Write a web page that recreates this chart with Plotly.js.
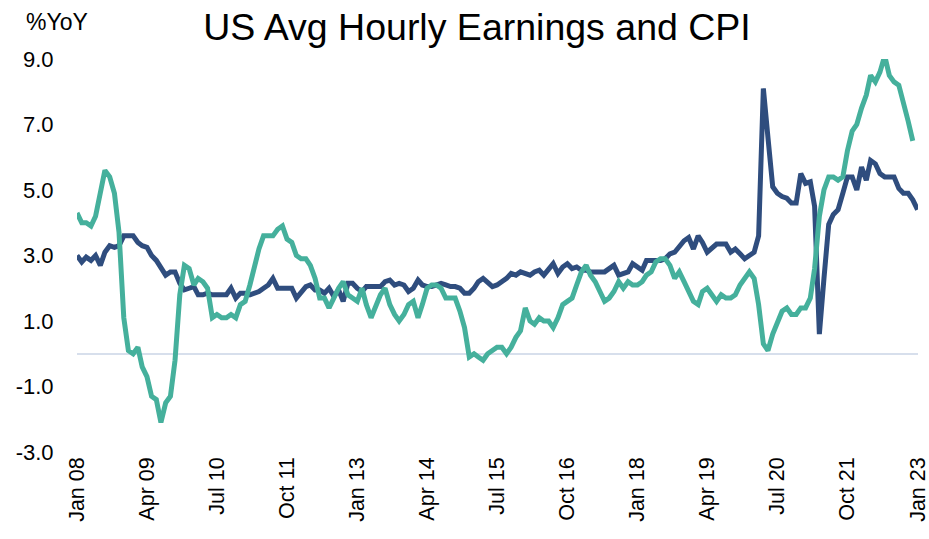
<!DOCTYPE html>
<html>
<head>
<meta charset="utf-8">
<script src="https://cdn.plot.ly/plotly-3.0.1.min.js"></script>
<style>html,body{margin:0;padding:0;background:#fff;}#chart{width:929px;height:539px;}</style>
</head>
<body>
<div id="chart"></div>
<script>
// Monthly series, first month Jan 2008
const startYear = 2008;

// Average hourly earnings, %YoY (Jan 2008 - Jan 2023)
const earnings = [
  3.0, 2.8, 2.95, 2.85, 3.0, 2.7, 3.1, 3.3, 3.25, 3.3, 3.6, 3.6,
  3.6, 3.4, 3.3, 3.25, 3.0, 2.85, 2.65, 2.4, 2.5, 2.5, 2.15, 1.95,
  2.0, 2.05, 1.8, 1.8, 1.85, 1.8, 1.8, 1.8, 1.8, 2.0, 1.7, 1.85,
  1.85, 1.8, 1.85, 1.9, 2.0, 2.1, 2.3, 2.0, 2.0, 2.0, 2.0, 1.7,
  1.9, 2.05, 2.1, 1.95, 1.95, 1.85, 2.0, 1.75, 1.95, 1.6, 2.15, 2.15,
  2.0, 1.9, 2.05, 2.05, 2.05, 2.05, 2.2, 2.25, 2.1, 2.15, 2.1, 1.9,
  2.0, 2.25, 2.1, 2.05, 2.05, 2.1, 2.15, 2.1, 2.05, 2.05, 2.0, 1.85,
  1.85, 2.0, 2.2, 2.3, 2.2, 2.05, 2.1, 2.2, 2.3, 2.45, 2.4, 2.5,
  2.45, 2.4, 2.5, 2.55, 2.4, 2.6, 2.75, 2.45, 2.65, 2.75, 2.6, 2.65,
  2.55, 2.55, 2.5, 2.5, 2.5, 2.5, 2.6, 2.7, 2.4, 2.45, 2.5, 2.75,
  2.65, 2.55, 2.85, 2.85, 2.85, 2.85, 2.9, 3.05, 3.1, 3.3, 3.45, 3.55,
  3.2, 3.6, 3.4, 3.1, 3.25, 3.35, 3.35, 3.35, 3.1, 3.2, 3.05, 2.9,
  3.0, 3.1, 3.6, 8.1, 6.6, 5.1, 4.9, 4.8, 4.75, 4.6, 4.6, 5.5,
  5.2, 5.25, 4.5, 0.6, 2.3, 3.95, 4.25, 4.4, 4.9, 5.4, 5.4, 5.0,
  5.7, 5.3, 5.9, 5.8, 5.5, 5.4, 5.4, 5.4, 5.05, 4.9, 4.9, 4.7,
  4.4
];

// CPI, %YoY (Jan 2008 - Dec 2022)
const cpi = [
  4.3, 4.0, 4.0, 3.9, 4.2, 5.0, 5.6, 5.4, 4.9, 3.7, 1.1, 0.1,
  0.0, 0.2, -0.4, -0.7, -1.3, -1.4, -2.1, -1.5, -1.3, -0.2, 1.8, 2.7,
  2.6, 2.1, 2.3, 2.2, 2.0, 1.1, 1.2, 1.1, 1.1, 1.2, 1.1, 1.5,
  1.6, 2.1, 2.7, 3.2, 3.6, 3.6, 3.6, 3.8, 3.9, 3.5, 3.4, 3.0,
  2.9, 2.9, 2.7, 2.3, 1.7, 1.7, 1.4, 1.7, 2.0, 2.2, 1.8, 1.7,
  1.6, 2.0, 1.5, 1.1, 1.4, 1.8, 2.0, 1.5, 1.2, 1.0, 1.2, 1.5,
  1.6, 1.1, 1.5, 2.0, 2.1, 2.1, 2.0, 1.7, 1.7, 1.7, 1.3, 0.8,
  -0.1, 0.0, -0.1, -0.2, 0.0, 0.1, 0.2, 0.2, 0.0, 0.2, 0.5, 0.7,
  1.4, 1.0, 0.9, 1.1, 1.0, 1.0, 0.8, 1.1, 1.5, 1.6, 1.7, 2.1,
  2.5, 2.7, 2.4, 2.2, 1.9, 1.6, 1.7, 1.9, 2.2, 2.0, 2.2, 2.1,
  2.1, 2.2, 2.4, 2.5, 2.8, 2.9, 2.9, 2.7, 2.3, 2.5, 2.2, 1.9,
  1.6, 1.5, 1.9, 2.0, 1.8, 1.6, 1.8, 1.7, 1.7, 1.8, 2.1, 2.3,
  2.5, 2.3, 1.5, 0.3, 0.1, 0.6, 1.0, 1.3, 1.4, 1.2, 1.2, 1.4,
  1.4, 1.7, 2.6, 4.2, 5.0, 5.4, 5.4, 5.3, 5.4, 6.2, 6.8, 7.0,
  7.5, 7.9, 8.5, 8.3, 8.6, 9.1, 8.5, 8.3, 8.2, 7.7, 7.1, 6.5
];

const tickDates = ['2008-01-01','2009-04-01','2010-07-01','2011-10-01','2013-01-01','2014-04-01',
  '2015-07-01','2016-10-01','2018-01-01','2019-04-01','2020-07-01','2021-10-01','2023-01-01'];
const tickLabels = ['Jan 08','Apr 09','Jul 10','Oct 11','Jan 13','Apr 14',
  'Jul 15','Oct 16','Jan 18','Apr 19','Jul 20','Oct 21','Jan 23'];
const yTicks = [-3, -1, 1, 3, 5, 7, 9];
const yTickLabels = ['-3.0', '-1.0', '1.0', '3.0', '5.0', '7.0', '9.0'];

function months(n) {
  const out = [];
  for (let k = 0; k < n; k++) {
    const y = startYear + Math.floor(k / 12);
    const m = (k % 12) + 1;
    out.push(y + '-' + (m < 10 ? '0' + m : m) + '-01');
  }
  return out;
}

const FONT = 'Liberation Sans, Arial, sans-serif';

const traces = [
  { x: months(earnings.length), y: earnings, type: 'scatter', mode: 'lines',
    name: 'Avg Hourly Earnings', line: { color: '#2F4D7E', width: 5 } },
  { x: months(cpi.length), y: cpi, type: 'scatter', mode: 'lines',
    name: 'CPI', line: { color: '#45B09C', width: 5 } }
];

const layout = {
  width: 929, height: 539,
  paper_bgcolor: '#ffffff', plot_bgcolor: '#ffffff',
  margin: { l: 77, r: 11, t: 59, b: 87 },
  showlegend: false,
  font: { family: FONT, color: '#000000', size: 22 },
  title: { text: 'US Avg Hourly Earnings and CPI', font: { family: FONT, size: 37.5, color: '#000000' },
           x: 0.5135, xanchor: 'center', xref: 'container', y: 0.95, yanchor: 'middle', yref: 'container' },
  xaxis: {
    type: 'date', range: ['2008-01-01', '2023-01-04'],
    tickvals: tickDates, ticktext: tickLabels, tickangle: -90,
    ticklabeloverflow: 'allow',
    showgrid: false, zeroline: false, showline: false, ticks: '',
    tickfont: { family: FONT, size: 21.5, color: '#000000' }
  },
  yaxis: {
    range: [-3, 9], tickvals: yTicks, ticktext: yTickLabels,
    showgrid: false, showline: false,
    zeroline: true, zerolinecolor: '#D7DFEC', zerolinewidth: 2,
    ticks: 'outside', ticklen: 18, tickcolor: 'rgba(0,0,0,0)',
    tickfont: { family: FONT, size: 22, color: '#000000' }
  },
  annotations: [
    { text: '%YoY', xref: 'paper', yref: 'paper', x: -0.0629, y: 1.094,
      xanchor: 'left', yanchor: 'middle', showarrow: false,
      font: { family: FONT, size: 23, color: '#000000' } }
  ]
};

Plotly.newPlot('chart', traces, layout, { staticPlot: true, displayModeBar: false });
</script>
</body>
</html>
